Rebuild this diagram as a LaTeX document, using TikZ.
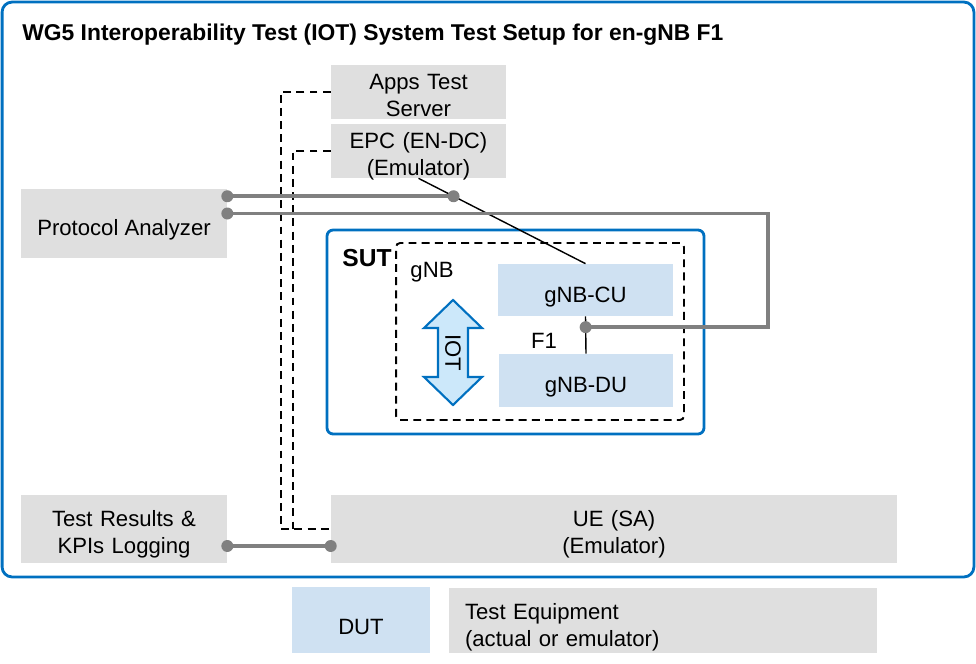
\documentclass[tikz,border=0pt]{standalone}
\usepackage{fontspec}
\setmainfont{Liberation Sans}
\usetikzlibrary{calc}

\definecolor{frameblue}{RGB}{0,112,192}
\definecolor{tegray}{RGB}{223,223,223}
\definecolor{dutblue}{RGB}{207,225,242}
\definecolor{iotfill}{RGB}{204,232,250}
\definecolor{wiregray}{RGB}{128,128,128}

\begin{document}
\begin{tikzpicture}[x=0.02cm, y=-0.02cm,
    every node/.style={font=\fontsize{12.6}{15.4}\selectfont, black, align=center, inner sep=0pt},
    textdown/.style={execute at begin node={\rule{0pt}{16.5pt}}},
    tebox/.style={fill=tegray, textdown},
    dutbox/.style={fill=dutblue, textdown},
    frame/.style={draw=frameblue, line width=1.6pt, rounded corners=0.2cm},
    wire/.style={draw=wiregray, line width=2.2pt},
    ctrl/.style={draw=black, line width=1.1pt, dash pattern=on 4.5pt off 3pt},
  ]
    \useasboundingbox (0,0) rectangle (976,663);

    % outer frame and title
    \node[frame, minimum width=19.44cm, minimum height=11.5cm] (setup) at (488,289.5) {};
    \node[anchor=west, font=\fontsize{13}{15}\selectfont\bfseries] (title) at (22,35) {WG5 Interoperability Test (IOT) System Test Setup for en-gNB F1};

    % test equipment
    \node[tebox, minimum width=3.5cm, text width=3.5cm, text height=13.7pt, text depth=17pt] (apps) at (418.5,92) {Apps Test\\Server};
    \node[tebox, minimum width=3.5cm, text width=3.5cm, text height=13.7pt, text depth=17pt] (epc) at (418.5,151) {EPC (EN-DC)\\(Emulator)};
    \node[tebox, minimum width=4.12cm, minimum height=1.38cm] (pa) at (124,223.5) {Protocol Analyzer};
    \node[tebox, minimum width=4.12cm, text width=4.12cm, text height=17.8pt, text depth=20.9pt] (logger) at (124,529) {Test Results \&\\KPIs Logging};
    \node[tebox, minimum width=11.32cm, text width=11.32cm, text height=17.8pt, text depth=20.9pt] (ue) at (614,529) {UE (SA)\\(Emulator)};

    % system under test
    \node[frame, rounded corners=0.12cm, minimum width=7.54cm, minimum height=4.08cm] (sut) at (515.5,332) {};
    \node[ctrl, rounded corners=0.08cm, minimum width=5.76cm, minimum height=3.54cm] (gnb) at (540,331.5) {};
    \node[font=\fontsize{14}{16}\selectfont\bfseries] (sutlabel) at (367,258) {SUT};
    \node (gnblabel) at (432,272) {gNB};
    \node[dutbox, minimum width=3.5cm, minimum height=1.04cm] (cu) at (585.5,290) {gNB-CU};
    \node[dutbox, minimum width=3.5cm, minimum height=1.06cm] (du) at (586,380.5) {gNB-DU};
    \node (f1label) at (544,341) {F1};

    % IOT arrow
    \draw[draw=frameblue, line width=1.2pt, fill=iotfill] (453,300) -- (482,328) -- (468,328) -- (468,377) -- (482,377)
        -- (453,405) -- (424,377) -- (438,377) -- (438,328) -- (424,328) -- cycle;
    \node[rotate=-90] (iot) at (453,353) {IOT};

    % legend
    \node[dutbox, minimum width=2.76cm, minimum height=1.32cm] (dutkey) at (361,620) {DUT};
    \node[tebox, minimum width=8.56cm, minimum height=1.3cm, text width=7.92cm, align=left] (tekey) at (663,620.5) {Test Equipment\\(actual or emulator)};

    % control links
    \draw[ctrl] (apps.west) -| ($(ue.west)+(-50,0)$) -- (ue.west);
    \draw[ctrl] (epc.west) -| ($(ue.west)+(-38,0)$);

    % interfaces
    \draw[line width=0.8pt] (epc.south) -- (cu.north);
    \draw[line width=0.8pt] (cu.south) -- (du.north);

    % monitoring taps
    \coordinate (epctap) at ($(epc.south)!0.21!(cu.north)$);
    \coordinate (f1tap) at ($(cu.south)!0.29!(du.north)$);
    \coordinate (bend) at ($(f1tap)+(182,0)$);
    \coordinate (patap) at (pa.east |- epctap);
    \coordinate (pamon) at ([yshift=0.2cm]pa.east);
    \coordinate (logtap) at ([yshift=-0.34cm]logger.east);
    \coordinate (uetap) at ([yshift=-0.34cm]ue.west);
    \draw[wire] (patap) -- (epctap);
    \draw[wire] (f1tap) -- (bend) |- (pamon);
    \draw[wire] (logtap) -- (uetap);
    \foreach \p in {patap,epctap,pamon,f1tap,logtap,uetap}
        \fill[wiregray] (\p) circle (0.12cm);
\end{tikzpicture}
\end{document}
